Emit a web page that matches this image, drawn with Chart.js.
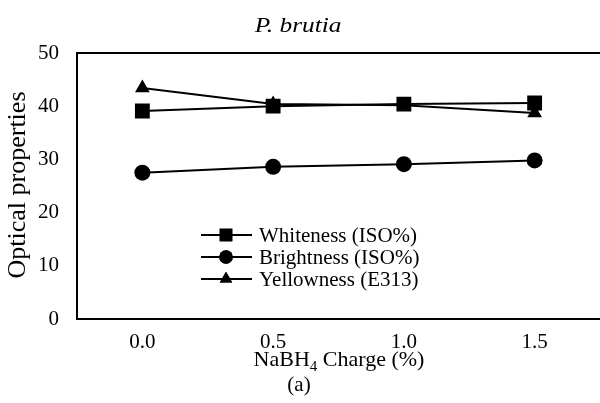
<!DOCTYPE html>
<html>
<head>
<meta charset="utf-8">
<script src="https://cdn.jsdelivr.net/npm/chart.js@4.4.0/dist/chart.umd.min.js"></script>
<style>
  html, body { margin: 0; padding: 0; background: #fff; }
  #wrap { width: 600px; height: 403px; }
</style>
</head>
<body>
<div id="wrap"><canvas id="chart" width="600" height="403"></canvas></div>
<script>
var charges = ['0.0', '0.5', '1.0', '1.5'];
var whiteness = [39.1, 40.0, 40.4, 40.6];
var brightness = [27.5, 28.6, 29.1, 29.8];
var yellowness = [43.4, 40.4, 40.2, 38.7];
var seriesNames = ['Whiteness (ISO%)', 'Brightness (ISO%)', 'Yellowness (E313)'];
var seriesShapes = ['rect', 'circle', 'triangle'];

var serif = "'Liberation Serif', 'Times New Roman', serif";

function makeSet(label, values, shape, radius) {
  return {
    label: label,
    data: values,
    borderColor: '#000',
    backgroundColor: '#000',
    borderWidth: 2,
    pointStyle: shape,
    pointRadius: radius,
    pointBorderWidth: 0,
    tension: 0,
    fill: false
  };
}

// text and legend drawn by hand
var extras = {
  id: 'extras',
  afterDraw: function(chart) {
    var ctx = chart.ctx;
    var area = chart.chartArea;
    ctx.save();
    ctx.fillStyle = '#000';
    ctx.strokeStyle = '#000';

    // top border
    ctx.lineWidth = 2;
    ctx.beginPath();
    ctx.moveTo(area.left, area.top);
    ctx.lineTo(600, area.top);
    ctx.stroke();

    // title (slightly wide, like the original)
    ctx.save();
    ctx.translate(298, 26);
    ctx.scale(1.15, 1);
    ctx.font = 'italic 22px ' + serif;
    ctx.textAlign = 'center';
    ctx.textBaseline = 'middle';
    ctx.fillText('P. brutia', 0, 0);
    ctx.restore();

    // y title
    ctx.save();
    ctx.translate(18, 185);
    ctx.rotate(-Math.PI / 2);
    ctx.font = '26px ' + serif;
    ctx.textAlign = 'center';
    ctx.textBaseline = 'middle';
    ctx.fillText('Optical properties', 0, 0);
    ctx.restore();

    // x title with subscript
    ctx.font = '22px ' + serif;
    ctx.textAlign = 'left';
    ctx.textBaseline = 'alphabetic';
    var a = 'NaBH', sub = '4', b = ' Charge (%)';
    var wa = ctx.measureText(a).width;
    var wb = ctx.measureText(b).width;
    ctx.font = '15px ' + serif;
    var ws = ctx.measureText(sub).width;
    var total = wa + ws + wb;
    var x0 = 339 - total / 2, base = 366;
    ctx.font = '22px ' + serif;
    ctx.fillText(a, x0, base);
    ctx.font = '15px ' + serif;
    ctx.fillText(sub, x0 + wa, base + 5);
    ctx.font = '22px ' + serif;
    ctx.fillText(b, x0 + wa + ws, base);

    ctx.font = '21px ' + serif;
    ctx.textAlign = 'center';
    ctx.fillText('(a)', 299, 391);

    // legend
    var rows = [235, 257, 279];
    ctx.font = '21px ' + serif;
    ctx.textAlign = 'left';
    ctx.textBaseline = 'middle';
    for (var i = 0; i < seriesNames.length; i++) {
      var y = rows[i];
      ctx.lineWidth = 2;
      ctx.beginPath();
      ctx.moveTo(201, y);
      ctx.lineTo(252, y);
      ctx.stroke();
      var ds = chart.data.datasets[i];
      Chart.helpers.drawPoint(ctx, {
        pointStyle: seriesShapes[i],
        radius: ds.pointRadius * 0.85,
        borderWidth: 0,
        rotation: 0
      }, 226, y);
      ctx.fill();
      ctx.fillText(seriesNames[i], 259, y + 1);
    }
    ctx.restore();
  }
};

new Chart(document.getElementById('chart'), {
  type: 'line',
  data: {
    labels: charges,
    datasets: [
      makeSet(seriesNames[0], whiteness, seriesShapes[0], 10.5),
      makeSet(seriesNames[1], brightness, seriesShapes[1], 8),
      makeSet(seriesNames[2], yellowness, seriesShapes[2], 8.5)
    ]
  },
  options: {
    responsive: false,
    animation: false,
    layout: { autoPadding: false, padding: { top: 53, right: 0, left: 0, bottom: 0 } },
    plugins: {
      legend: { display: false },
      title: { display: false },
      tooltip: { enabled: false }
    },
    scales: {
      x: {
        offset: true,
        grid: { display: false, drawTicks: false },
        border: { display: true, color: '#000', width: 2 },
        ticks: { color: '#000', font: { family: serif, size: 21 }, padding: 11 },
        afterFit: function(scale) {
          scale.height = 84;
        }
      },
      y: {
        min: 0,
        max: 50,
        grid: { display: false, drawTicks: false },
        border: { display: true, color: '#000', width: 2 },
        ticks: { stepSize: 10, color: '#000', font: { family: serif, size: 21 }, padding: 18 },
        afterFit: function(scale) { scale.width = 77; }
      }
    }
  },
  plugins: [extras]
});
</script>
</body>
</html>
